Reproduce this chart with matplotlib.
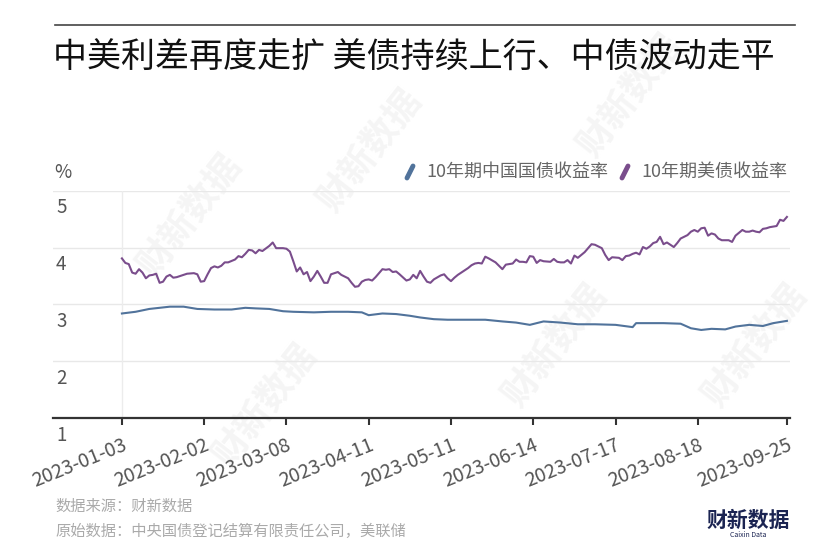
import matplotlib
matplotlib.use("Agg")
import matplotlib.pyplot as plt
from matplotlib.lines import Line2D

plt.rcParams['font.family'] = ['Noto Sans CJK SC', 'DejaVu Sans']

# 交易日序号（2023-01-03 为 0）与收益率 (%)
cn_day = [0, 4, 8, 11, 14, 18, 22, 27, 32, 36, 39, 43, 47, 50, 56, 61, 66, 70, 72,
          76, 80, 84, 87, 91, 95, 101, 106, 111, 115, 119, 123, 128, 133, 138, 144,
          149, 150, 154, 158, 163, 166, 169, 172, 176, 179, 183, 187, 190, 194]
cn_yield = [2.84, 2.87, 2.92, 2.94, 2.96, 2.96, 2.92, 2.91, 2.91, 2.94, 2.93, 2.92,
            2.88, 2.87, 2.86, 2.87, 2.87, 2.86, 2.81, 2.84, 2.83, 2.80, 2.77, 2.74,
            2.73, 2.73, 2.73, 2.70, 2.68, 2.64, 2.70, 2.68, 2.65, 2.65, 2.64, 2.60,
            2.67, 2.67, 2.67, 2.66, 2.58, 2.55, 2.57, 2.56, 2.61, 2.64, 2.62, 2.67, 2.71]

us_day = [0, 1, 2, 3, 4, 5, 6, 7, 8, 9, 10, 11, 12, 13, 14, 15, 16, 18, 19, 21, 22,
          23, 24, 25, 26, 27, 28, 29, 30, 31, 33, 34, 35, 36, 37, 38, 39, 40, 41, 43,
          44, 45, 47, 48, 49, 50, 51, 52, 53, 54, 55, 56, 57, 58, 59, 60, 61, 62, 63,
          64, 66, 67, 68, 69, 70, 71, 72, 73, 74, 75, 76, 77, 78, 79, 80, 81, 83, 84,
          85, 86, 87, 88, 89, 90, 91, 93, 94, 95, 96, 97, 98, 100, 101, 102, 103, 104,
          105, 106, 107, 109, 110, 111, 112, 113, 114, 115, 116, 117, 118, 119, 120,
          121, 122, 123, 125, 126, 127, 128, 129, 130, 131, 132, 133, 134, 135, 136,
          137, 138, 139, 140, 141, 142, 143, 145, 146, 147, 148, 149, 150, 151, 152,
          153, 154, 155, 156, 157, 158, 159, 160, 161, 162, 163, 164, 165, 166, 167,
          168, 169, 170, 171, 172, 173, 174, 175, 177, 178, 179, 180, 181, 182, 183,
          184, 185, 186, 187, 188, 189, 190, 191, 192, 193, 194]
us_yield = [3.81, 3.73, 3.71, 3.56, 3.54, 3.62, 3.56, 3.46, 3.51, 3.52, 3.54, 3.38,
            3.40, 3.49, 3.52, 3.47, 3.48, 3.52, 3.54, 3.55, 3.53, 3.40, 3.41, 3.53,
            3.64, 3.67, 3.65, 3.68, 3.74, 3.74, 3.79, 3.85, 3.83, 3.89, 3.96, 3.95,
            3.90, 3.96, 3.94, 4.03, 4.09, 3.99, 3.99, 3.98, 3.93, 3.76, 3.58, 3.65,
            3.53, 3.57, 3.41, 3.49, 3.59, 3.49, 3.38, 3.38, 3.53, 3.55, 3.57, 3.52,
            3.46, 3.38, 3.31, 3.32, 3.40, 3.43, 3.44, 3.42, 3.48, 3.55, 3.62, 3.61,
            3.62, 3.57, 3.58, 3.53, 3.42, 3.44, 3.52, 3.46, 3.59, 3.49, 3.40, 3.38,
            3.44, 3.51, 3.53, 3.46, 3.41, 3.47, 3.52, 3.60, 3.64, 3.69, 3.72, 3.73,
            3.72, 3.84, 3.81, 3.74, 3.68, 3.62, 3.70, 3.71, 3.72, 3.79, 3.75, 3.75,
            3.74, 3.85, 3.84, 3.73, 3.78, 3.76, 3.75, 3.80, 3.75, 3.74, 3.74, 3.78,
            3.72, 3.86, 3.82, 3.87, 3.92, 3.99, 4.06, 4.05, 4.02, 3.99, 3.87, 3.78,
            3.83, 3.82, 3.78, 3.85, 3.86, 3.89, 3.91, 3.88, 4.01, 3.98, 4.02, 4.08,
            4.10, 4.19, 4.06, 4.09, 4.05, 4.01, 4.08, 4.16, 4.19, 4.22, 4.28, 4.31,
            4.28, 4.34, 4.35, 4.21, 4.25, 4.23, 4.16, 4.13, 4.13, 4.10, 4.21, 4.26,
            4.31, 4.28, 4.28, 4.30, 4.28, 4.27, 4.33, 4.34, 4.36, 4.37, 4.38, 4.49,
            4.47, 4.54]

tick_day = [0, 24, 48, 72, 96, 120, 144, 168, 194]
tick_label = ["2023-01-03", "2023-02-02", "2023-03-08", "2023-04-11", "2023-05-11",
              "2023-06-14", "2023-07-17", "2023-08-18", "2023-09-25"]
y_ticks = [1, 2, 3, 4, 5]

cn_color = "#51739b"
us_color = "#7a4d8c"
W, H = 840, 554

fig = plt.figure(figsize=(8.4, 5.54), dpi=100)

# 水印 watermark, 放在最底层
for cx, cy in [(190, 215), (370, 150), (630, 95), (265, 405), (555, 345), (755, 345)]:
    fig.text(cx / W, 1 - cy / H, "财新数据", fontsize=26, color="#f5f5f5",
             rotation=52, ha="center", va="center", fontweight="bold", zorder=-1)

ax = fig.add_axes([53 / W, (H - 418) / H, 737 / W, 227.2 / H])
ax.set_zorder(1)
ax.set_xlim(-20.1, 194.9)
ax.set_ylim(1, 5)
ax.patch.set_alpha(0)

for v in y_ticks[1:]:
    ax.axhline(v, color="#e8e8e8", lw=1, zorder=1)
ax.axvline(0, color="#ececec", lw=1, zorder=1)

ax.plot(cn_day, cn_yield, color=cn_color, lw=1.5, zorder=3)
ax.plot(us_day, us_yield, color=us_color, lw=1.5, zorder=3)

for s in ["top", "right", "left"]:
    ax.spines[s].set_visible(False)
ax.spines["bottom"].set_color("#333333")
ax.spines["bottom"].set_linewidth(1.6)

ax.set_yticks([])
ax.set_xticks(tick_day)
ax.set_xticklabels(tick_label, rotation=22, ha="right", rotation_mode="anchor",
                   fontsize=14, color="#555555")
ax.tick_params(axis="x", length=5, width=1.5, color="#333333", pad=7)

ytrans = ax.get_yaxis_transform()
for v in y_ticks:
    ax.text(3 / 737, v - 0.3, str(v), transform=ytrans, fontsize=13.5,
            color="#555555", ha="left", va="center")

fig.text(54 / W, 1 - 173 / H, "%", fontsize=13.5, color="#555555", ha="left", va="center")

# 标题 title
fig.add_artist(Line2D([55 / W, 795 / W], [1 - 25 / H, 1 - 25 / H], color="#444444", lw=1.2))
fig.text(53 / W, 1 - 58 / H, "中美利差再度走扩 美债持续上行、中债波动走平",
         fontsize=24.5, color="#111111", ha="left", va="center")

# 图例 legend
for x0, col, txt in [(407, cn_color, "10年期中国国债收益率"), (622, us_color, "10年期美债收益率")]:
    fig.add_artist(Line2D([x0 / W, (x0 + 6) / W], [1 - 178 / H, 1 - 166 / H], color=col,
                          lw=3.5, solid_capstyle="round"))
    fig.text((x0 + 19) / W, 1 - 172 / H, txt, fontsize=13, color="#666666",
             ha="left", va="center")

# 来源 footer
fig.text(55 / W, 1 - 506 / H, "数据来源：财新数据", fontsize=11, color="#aaaaaa",
         ha="left", va="center")
fig.text(55 / W, 1 - 531 / H, "原始数据：中央国债登记结算有限责任公司，美联储", fontsize=11,
         color="#aaaaaa", ha="left", va="center")
fig.text(748 / W, 1 - 520 / H, "财新数据", fontsize=15, color="#1b2452", fontweight="bold",
         ha="center", va="center")
fig.text(748 / W, 1 - 535 / H, "Caixin Data", fontsize=5, color="#1b2452",
         ha="center", va="center")

fig.savefig("out.png", dpi=100, facecolor="white")
